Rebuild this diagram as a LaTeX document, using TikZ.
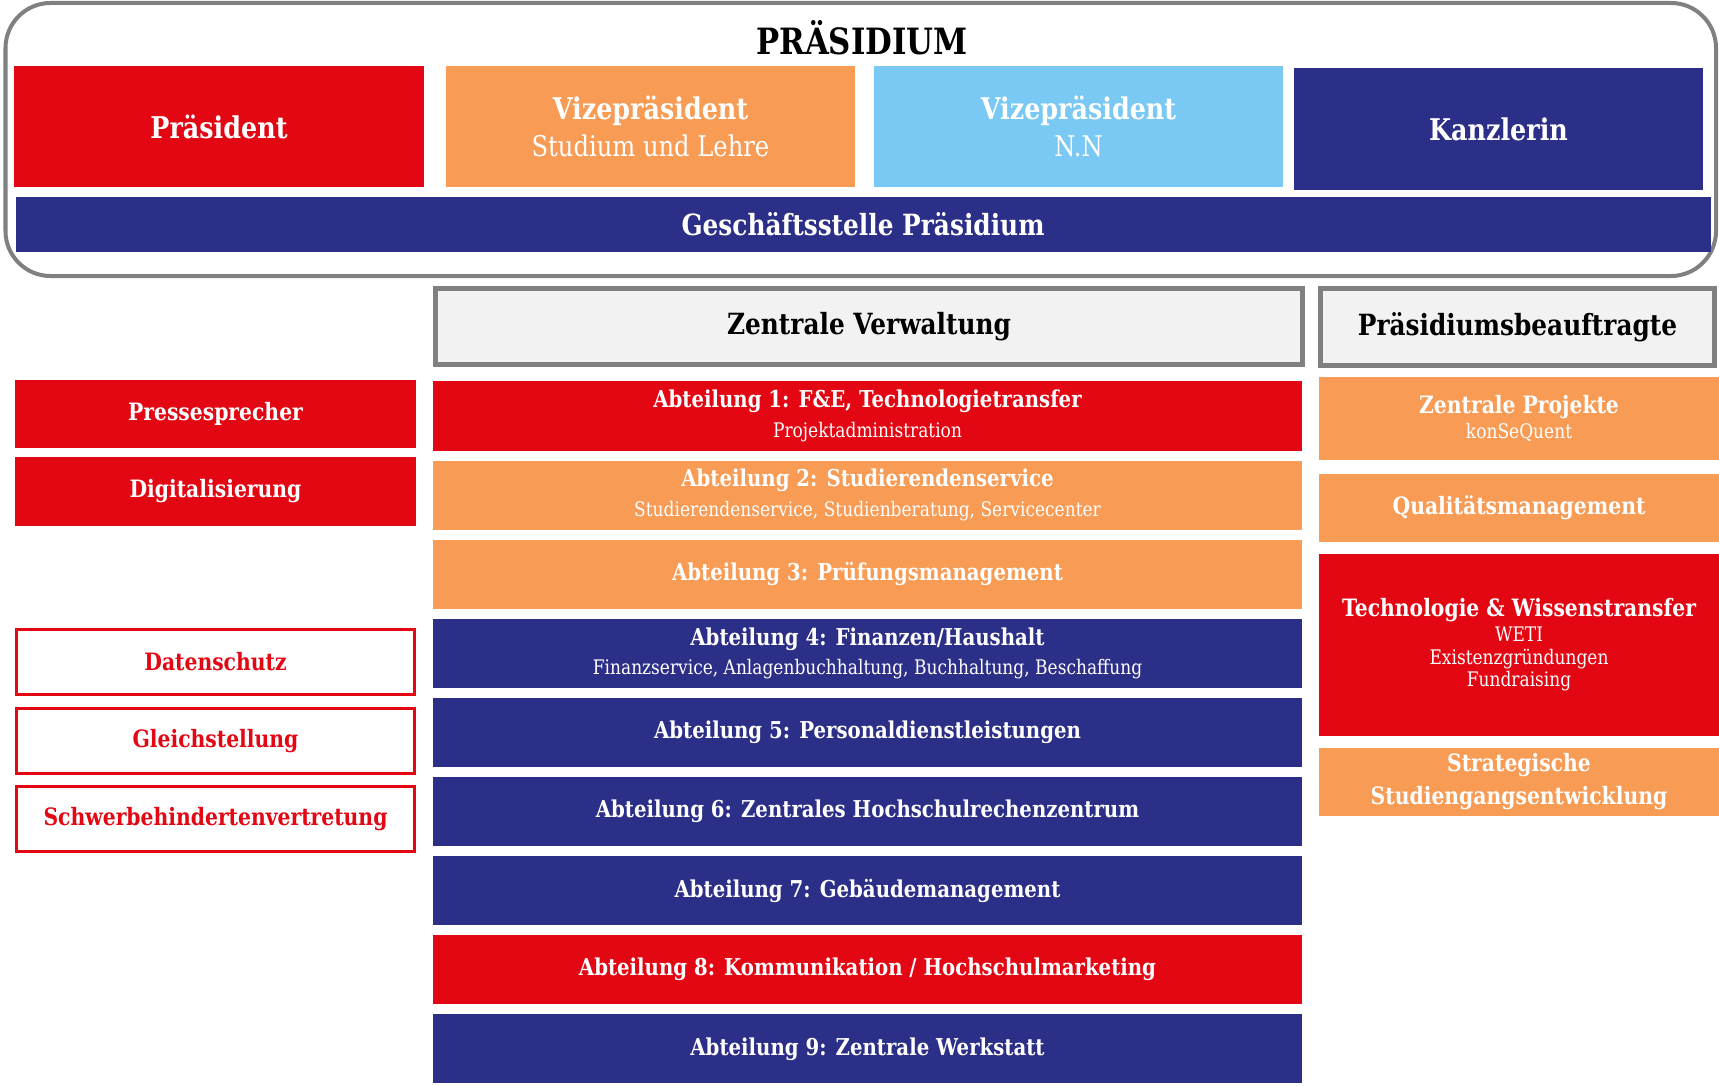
\documentclass[tikz,border=0pt]{standalone}
\usepackage{fontspec}
\setmainfont[FakeStretch=0.85]{DejaVu Serif}

\definecolor{hsrot}{RGB}{227,6,19}
\definecolor{hsorange}{RGB}{247,155,85}
\definecolor{hsblau}{RGB}{122,201,244}
\definecolor{hsnavy}{RGB}{44,47,135}
\definecolor{hsgrau}{RGB}{128,128,128}
\definecolor{hshell}{RGB}{242,242,242}

\newcommand{\kleinzeile}[1]{{\mdseries\fontsize{5.7}{7.6}\selectfont #1}}
\newcommand{\kopfzeile}[1]{{\mdseries\fontsize{8.1}{10.6}\selectfont #1}}

\tikzset{
    kopf/.style={inner sep=0pt, align=center, text=white,
        minimum width=4.09cm, minimum height=1.21cm,
        font=\bfseries\fontsize{8.5}{10.6}\selectfont},
    spalte/.style={draw=hsgrau, fill=hshell, line width=0.5mm,
        inner sep=0pt, align=center,
        minimum height=0.76cm, font=\bfseries\fontsize{8.3}{10}\selectfont},
    abt/.style={inner sep=0pt, align=center, text=white,
        minimum width=8.69cm, minimum height=0.69cm,
        font=\bfseries\fontsize{6.6}{8.4}\selectfont},
    links/.style={inner sep=0pt, align=center, text=white,
        minimum width=4.01cm, minimum height=0.68cm,
        font=\bfseries\fontsize{6.8}{7.6}\selectfont},
    linksrand/.style={links, draw=hsrot, line width=0.3mm, fill=white,
        text=hsrot, minimum width=3.98cm, minimum height=0.65cm},
    rechts/.style={inner sep=0pt, align=center, text=white,
        minimum width=4cm, minimum height=0.68cm,
        font=\bfseries\fontsize{6.8}{7.6}\selectfont}
}

\begin{document}
\begin{tikzpicture}[x=0.01cm, y=-0.01cm]

    \useasboundingbox (0, 0) rectangle (1719, 1085);

    \draw[hsgrau, line width = 0.4mm, rounded corners = 0.45cm]
        (5.5, 3) rectangle (1716, 276);
    \node[font=\bfseries\fontsize{10.3}{12}\selectfont] (praesidium)
        at (862, 38) {PRÄSIDIUM};

    \node[kopf, fill=hsrot] (praesident) at (219, 126.5) {Präsident};
    \node[kopf, fill=hsorange] (vizelehre) at (650.5, 126.5)
        {Vizepräsident\\\kopfzeile{Studium und Lehre}};
    \node[kopf, fill=hsblau] (vizenn) at (1078.5, 126.5)
        {Vizepräsident\\\kopfzeile{N.N}};
    \node[kopf, fill=hsnavy] (kanzlerin) at (1498.5, 129) {Kanzlerin};

    \node[kopf, fill=hsnavy, minimum width=16.94cm, minimum height=0.55cm,
        font=\bfseries\fontsize{8.3}{10}\selectfont] (geschaeftsstelle)
        at (863, 224.5) {Geschäftsstelle Präsidium};

    \node[spalte, minimum width=8.67cm] (verwaltung)
        at (869, 326.5) {Zentrale Verwaltung};
    \node[spalte, minimum width=3.94cm] (beauftragte)
        at (1517.5, 327) {Präsidiumsbeauftragte};

    \foreach \i/\farbe/\txt in {
        1/hsrot/{Abteilung 1: F\&E, Technologietransfer\\\kleinzeile{Projektadministration}},
        2/hsorange/{Abteilung 2: Studierendenservice\\\kleinzeile{Studierendenservice, Studienberatung, Servicecenter}},
        3/hsorange/{Abteilung 3: Prüfungsmanagement},
        4/hsnavy/{Abteilung 4: Finanzen/Haushalt\\\kleinzeile{Finanzservice, Anlagenbuchhaltung, Buchhaltung, Beschaffung}},
        5/hsnavy/{Abteilung 5: Personaldienstleistungen},
        6/hsnavy/{Abteilung 6: Zentrales Hochschulrechenzentrum},
        7/hsnavy/{Abteilung 7: Gebäudemanagement},
        8/hsrot/{Abteilung 8: Kommunikation / Hochschulmarketing},
        9/hsnavy/{Abteilung 9: Zentrale Werkstatt}}
    {
        \pgfmathsetmacro{\ypos}{416 + 79.1*(\i - 1)}
        \node[abt, fill=\farbe] (abt\i) at (867.5, \ypos) {\txt};
    }

    \node[links, fill=hsrot] (presse) at (215.5, 414) {Pressesprecher};
    \node[links, fill=hsrot] (digital) at (215.5, 491.5) {Digitalisierung};

    \node[linksrand] (datenschutz) at (215.5, 662) {Datenschutz};
    \node[linksrand] (gleichstellung) at (215.5, 741) {Gleichstellung};
    \node[linksrand] (schwerbehindert) at (215.5, 819)
        {Schwerbehindertenvertretung};

    \node[rechts, fill=hsorange, minimum height=0.83cm] (projekte)
        at (1519, 418.5) {Zentrale Projekte\\[-0.4pt]\kleinzeile{konSeQuent}};
    \node[rechts, fill=hsorange] (qualitaet)
        at (1519, 508) {Qualitätsmanagement};
    \node[rechts, fill=hsrot, minimum height=1.82cm] (transfer)
        at (1519, 645) {Technologie \& Wissenstransfer\\[-0.5pt]
        \kleinzeile{WETI}\\[-1.2pt]\kleinzeile{Existenzgründungen}\\[-1.2pt]\kleinzeile{Fundraising}};
    \node[rechts, fill=hsorange, font=\bfseries\fontsize{6.8}{9.4}\selectfont]
        (studiengang) at (1519, 782) {Strategische\\Studiengangsentwicklung};

\end{tikzpicture}
\end{document}
